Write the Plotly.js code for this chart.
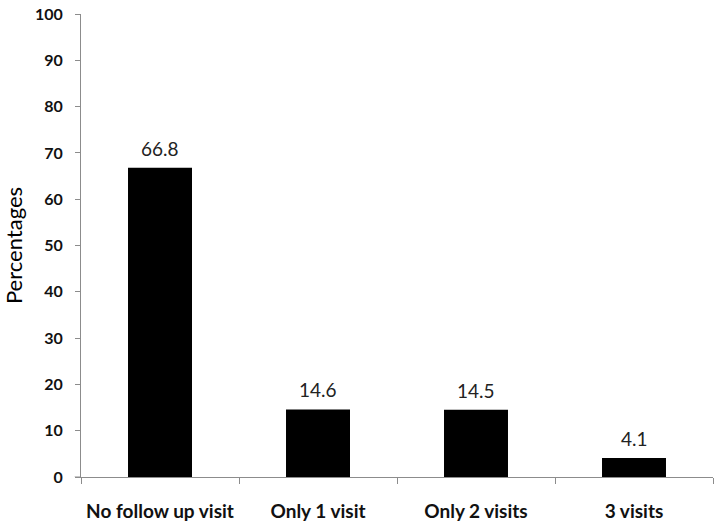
<!DOCTYPE html>
<html><head><meta charset="utf-8">
<script src="https://cdn.plot.ly/plotly-3.0.1.min.js"></script>
<style>html,body{margin:0;padding:0;background:#fff}#chart{width:720px;height:526px}</style>
</head><body><div id="chart"></div>
<script>
const categories = ["No follow up visit", "Only 1 visit", "Only 2 visits", "3 visits"];
const percentages = [66.8, 14.6, 14.5, 4.1];
const labels = ["66.8", "14.6", "14.5", "4.1"];
const yTicks = [0,10,20,30,40,50,60,70,80,90,100];

const fontFam = "Lato, Open Sans, sans-serif";
const valueAnnotations = categories.map((c, i) => ({
  x: c, y: percentages[i], xref: "x", yref: "y",
  text: labels[i], showarrow: false, yanchor: "bottom", yshift: 6,
  font: {family: fontFam, size: 19, color: "#222"}
}));

Plotly.newPlot("chart", [{
  type: "bar",
  x: categories,
  y: percentages,
  marker: {color: "#000"},
  width: 0.405,
  hoverinfo: "none"
}], {
  width: 720, height: 526,
  margin: {l: 81, r: 7, t: 14, b: 49},
  paper_bgcolor: "#fff", plot_bgcolor: "#fff",
  showlegend: false,
  annotations: valueAnnotations,
  shapes: [{type: "line", xref: "paper", yref: "y", x0: -0.01, x1: 0, y0: 0, y1: 0,
            line: {color: "#8c8c8c", width: 1}}],
  xaxis: {
    showline: true, linecolor: "#8c8c8c", linewidth: 1,
    ticks: "outside", tickson: "boundaries", ticklen: 6, tickcolor: "#8c8c8c",
    ticklabelstandoff: 17,
    tickfont: {family: fontFam, size: 19, color: "#111", weight: "bold"},
    showgrid: false, zeroline: false
  },
  yaxis: {
    range: [0, 100], tickvals: yTicks, ticktext: yTicks.map(String),
    showline: true, linecolor: "#8c8c8c", linewidth: 1,
    ticks: "outside", ticklen: 5, tickcolor: "#8c8c8c",
    ticklabelstandoff: 9,
    tickfont: {family: fontFam, size: 16, color: "#111", weight: "bold"},
    showgrid: false, zeroline: false,
    title: {text: "Percentages", font: {family: fontFam, size: 22, color: "#000"}, standoff: 10}
  },
  bargap: 0.6
}, {staticPlot: true});
</script></body></html>
